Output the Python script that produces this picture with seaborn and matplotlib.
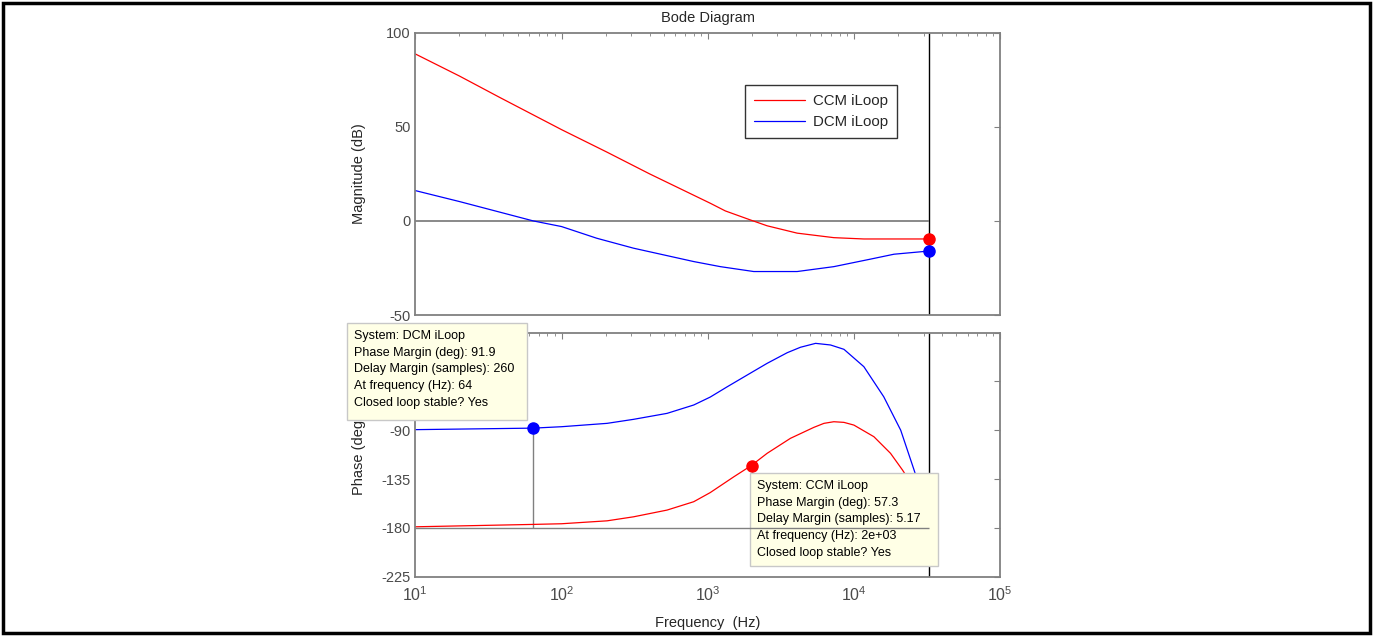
import numpy as np
import pandas as pd
import matplotlib
matplotlib.use("Agg")
import matplotlib.pyplot as plt
import matplotlib.ticker as mticker
from matplotlib.patches import Rectangle
import seaborn as sns

# ---------------- data ----------------
ccm_mag_f = [10, 20, 38, 100, 205, 400, 1040, 1320, 1960, 2550, 4090, 7290, 11700, 32700]
ccm_mag_db = [88.7, 77.0, 65.5, 48.5, 36.5, 25.0, 9.4, 5.3, 0.5, -2.6, -6.5, -8.9, -9.6, -9.6]

dcm_mag_f = [10, 20, 64, 100, 174, 311, 802, 1220, 2065, 4090, 7290, 13000, 18800, 32700]
dcm_mag_db = [16.1, 10.3, 0.0, -3.0, -9.2, -14.5, -21.6, -24.3, -26.9, -26.9, -24.3, -20.3, -17.7, -16.0]

ccm_ph_f = [10, 64, 100, 205, 311, 527, 802, 1040, 1510, 1980, 2550, 3680, 5320, 6240, 7290,
            8550, 10000, 13700, 17800, 21500, 32700]
ccm_ph_deg = [-179.0, -176.8, -176.2, -173.5, -169.8, -163.6, -155.9, -147.5, -132.9, -122.7,
              -111.3, -97.5, -87.4, -83.7, -82.2, -82.8, -85.3, -96.0, -111.3, -126.7, -165.0]

dcm_ph_f = [10, 64, 100, 205, 311, 527, 802, 1040, 1360, 1950, 2550, 3500, 4310, 5470, 6920,
            8550, 11700, 16000, 20900, 25800, 32700]
dcm_ph_deg = [-89.5, -88.1, -86.8, -83.7, -80.0, -74.5, -66.8, -59.5, -50.0, -37.6, -28.4,
              -18.6, -13.6, -10.0, -11.5, -15.5, -31.5, -59.2, -90.0, -126.7, -170.0]

systems = ["CCM iLoop", "DCM iLoop"]
colors = ["#ff0000", "#0000ff"]
nyquist = 32700
crossover_hz = [2000, 64]          # CCM, DCM
phase_margin = [57.3, 91.9]
tip_ccm = ["System: CCM iLoop", "Phase Margin (deg): 57.3", "Delay Margin (samples): 5.17",
           "At frequency (Hz): 2e+03", "Closed loop stable? Yes"]
tip_dcm = ["System: DCM iLoop", "Phase Margin (deg): 91.9", "Delay Margin (samples): 260",
           "At frequency (Hz): 64", "Closed loop stable? Yes"]

mag = pd.concat([
    pd.DataFrame({"f": ccm_mag_f, "v": ccm_mag_db, "sys": systems[0]}),
    pd.DataFrame({"f": dcm_mag_f, "v": dcm_mag_db, "sys": systems[1]}),
])
ph = pd.concat([
    pd.DataFrame({"f": ccm_ph_f, "v": ccm_ph_deg, "sys": systems[0]}),
    pd.DataFrame({"f": dcm_ph_f, "v": dcm_ph_deg, "sys": systems[1]}),
])

# ---------------- style ----------------
sns.set_style("white")
plt.rcParams["font.family"] = ["Liberation Sans", "DejaVu Sans"]
plt.rcParams["axes.unicode_minus"] = False
grey = "#808080"
tickcol = "#4a4a4a"
pal = dict(zip(systems, colors))
W, H = 1373, 636

fig = plt.figure(figsize=(13.73, 6.36), dpi=100)
ax1 = fig.add_axes([0.3025, 0.5047, 0.4259, 0.4439])
ax2 = fig.add_axes([0.3025, 0.0932, 0.4259, 0.3840])

sns.lineplot(data=mag, x="f", y="v", hue="sys", palette=pal, sort=False,
             estimator=None, linewidth=0.9, ax=ax1)
sns.lineplot(data=ph, x="f", y="v", hue="sys", palette=pal, sort=False,
             estimator=None, linewidth=0.9, ax=ax2, legend=False)

for ax in (ax1, ax2):
    ax.set_xscale("log")
    ax.set_xlim(10, 1e5)
    ax.axvline(nyquist, color="black", linewidth=1, zorder=1)
    for s in ax.spines.values():
        s.set_color(grey)
        s.set_linewidth(1.3)
    ax.tick_params(which="both", direction="in", top=True, right=True,
                   color=grey, labelcolor=tickcol, labelsize=10.5)
    ax.tick_params(which="major", length=4)
    ax.tick_params(which="minor", length=2.5)
    ax.xaxis.set_major_locator(mticker.LogLocator(base=10))
    ax.xaxis.set_minor_locator(mticker.LogLocator(base=10, subs=np.arange(2, 10)))
    ax.set_xlabel("")

# magnitude
ax1.set_ylim(-50, 100)
ax1.set_yticks([-50, 0, 50, 100])
ax1.tick_params(labelbottom=False)
ax1.hlines(0, 10, nyquist, color=grey, linewidth=1.3, zorder=1)
ax1.plot([nyquist], [ccm_mag_db[-1]], "o", color=colors[0], ms=8, zorder=5)
ax1.plot([nyquist], [dcm_mag_db[-1]], "o", color=colors[1], ms=8, zorder=5)
ax1.set_ylabel("Magnitude (dB)", fontsize=10.5)
ax1.yaxis.set_label_coords(-0.085, 0.5)
ax1.set_title("Bode Diagram", fontsize=10.5, pad=8)
leg = ax1.legend(title=None, loc="upper left", bbox_to_anchor=(0.564, 0.815),
                 borderaxespad=0, frameon=True, fancybox=False, fontsize=10.8,
                 handlelength=3.4, handletextpad=0.5, borderpad=0.6, labelspacing=0.5)
leg.get_frame().set_edgecolor("black")
leg.get_frame().set_linewidth(1)
for h in leg.get_lines():
    h.set_linewidth(0.9)

# phase
ax2.set_ylim(-225, 0)
ph_ticks = [-225, -180, -135, -90, -45, 0]
ax2.set_yticks(ph_ticks)
# -45 and 0 sit under the data tip in the reference
ax2.set_yticklabels([str(t) if t <= -90 else "" for t in ph_ticks])
ax2.tick_params(axis="x", labelsize=11.5, pad=6)
ax2.xaxis.set_major_formatter(mticker.LogFormatterSciNotation())
ax2.hlines(-180, 10, nyquist, color=grey, linewidth=1, zorder=8)
for f, pm, c in zip(crossover_hz, phase_margin, colors):
    ax2.vlines(f, -180, -180 + pm, color=grey, linewidth=1, zorder=1)
    ax2.plot([f], [-180 + pm], "o", color=c, ms=8, zorder=5)
ax2.set_ylabel("Phase (deg)", fontsize=10.5)
ax2.yaxis.set_label_coords(-0.085, 0.5)
ax2.set_xlabel("Frequency  (Hz)", fontsize=10.5)
ax2.xaxis.set_label_coords(0.5, -0.16)


# data tips, placed in figure pixels
def tip(owner, x0, y0, w, h, lines, z):
    r = Rectangle((x0 / W, 1 - (y0 + h) / H), w / W, h / H,
                  transform=fig.transFigure, facecolor="#ffffe6",
                  edgecolor="#c8c8c8", linewidth=1, zorder=z, clip_on=False)
    owner.add_artist(r)
    t = owner.text((x0 + 7) / W, 1 - (y0 + 7) / H, "\n".join(lines), ha="left", va="top",
                   fontsize=9, linespacing=1.52, color="black", zorder=z + 1,
                   transform=fig.transFigure)
    t.set_clip_on(False)


tip(fig, 347, 323, 180, 97, tip_dcm, 10)
tip(ax2, 750, 473, 188, 93, tip_ccm, 6)

# outer frame
fig.add_artist(Rectangle((0.002, 0.004), 0.996, 0.992, transform=fig.transFigure,
                         fill=False, edgecolor="black", linewidth=2.5, zorder=20))

fig.savefig("out.png", dpi=100)
